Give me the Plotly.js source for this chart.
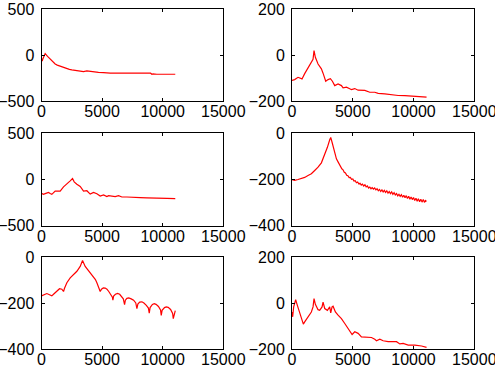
<!DOCTYPE html>
<html>
<head>
<meta charset="utf-8">
<script src="https://cdn.plot.ly/plotly-3.0.1.min.js"></script>
<style>html,body{margin:0;padding:0;background:#fff;}#chart{width:495px;height:366px;}</style>
</head>
<body>
<div id="chart"></div>
<script>
// Series 1 (top-left)
const freq1 = [0, 60, 120, 303, 500, 716, 900, 1128, 1300, 1404, 1550, 1680, 1900, 2092, 2300, 2505, 2918, 3200, 3468, 3743, 4000, 4294, 4700, 5120, 5670, 6500, 7597, 8500, 9000, 9110, 9200, 9523, 10300, 11038];
const vals1 = [-36, -65, -40, 15, -15, -47, -75, -97, -110, -115, -118, -126, -140, -151, -157, -162, -169, -175, -180, -173, -178, -184, -188, -191, -198, -198, -198, -198, -198, -209, -205, -209, -209, -209];

// Series 2 (top-right)
const freq2 = [0, 220, 495, 632, 824, 1044, 1319, 1593, 1731, 1813, 1923, 2143, 2418, 2555, 2775, 2967, 3159, 3324, 3516, 3791, 4066, 4203, 4478, 4753, 4890, 5165, 5440, 5989, 6401, 6813, 7088, 7637, 8187, 8736, 9286, 9973, 10247, 11071];
const vals2 = [-110, -107, -97, -100, -104, -81, -57, -36, -19, 19, -10, -39, -60, -79, -114, -107, -103, -114, -133, -126, -133, -143, -140, -147, -150, -146, -153, -154, -162, -162, -167, -169, -173, -176, -177, -179, -182, -183];

// Series 3 (middle-left)
const freq3 = [0, 165, 303, 578, 716, 853, 1128, 1404, 1541, 1817, 2092, 2367, 2560, 2697, 2918, 3193, 3468, 3743, 4018, 4294, 4569, 4844, 5120, 5395, 5532, 5808, 6083, 6358, 6634, 7046, 7597, 8147, 8697, 9248, 9798, 10349, 11038];
const vals3 = [-153, -163, -156, -142, -153, -163, -128, -128, -128, -82, -53, -18, 7, -28, -53, -78, -128, -124, -160, -142, -156, -181, -170, -188, -178, -181, -188, -178, -192, -192, -199, -199, -202, -206, -202, -206, -209];

// Series 4 (middle-right)
const freq4 = [0, 220, 495, 769, 1044, 1319, 1593, 1868, 2143, 2418, 2692, 2912, 3104, 3187, 3297, 3462, 3654,
  3800, 3900, 4000, 4100, 4200, 4300, 4400, 4500, 4600, 4700, 4800, 4900, 5000, 5100, 5200, 5300, 5400, 5500,
  5600, 5700, 5800, 5900, 6000, 6100, 6200, 6300, 6400, 6500, 6600, 6700, 6800, 6900, 7000, 7100, 7200, 7300,
  7400, 7500, 7600, 7700, 7800, 7900, 8000, 8100, 8200, 8300, 8400, 8500, 8600, 8700, 8800, 8900, 9000, 9100,
  9200, 9300, 9400, 9500, 9600, 9700, 9800, 9900, 10000, 10100, 10200, 10300, 10400, 10500, 10600, 10700,
  10800, 10900, 11000, 11025];
const vals4 = [-202, -205, -201, -198, -192, -184, -176, -162, -148, -129, -95, -62, -29, -19, -40, -76, -112,
  -126, -138, -143, -155, -159, -170, -173, -183, -185, -193, -192, -200, -199, -208, -206, -215, -212, -220,
  -217, -225, -221, -229, -224, -233, -229, -238, -234, -241, -236, -243, -238, -246, -241, -250, -244, -253,
  -246, -255, -248, -257, -250, -260, -253, -262, -255, -265, -258, -268, -262, -272, -265, -274, -267, -278,
  -269, -280, -271, -283, -274, -286, -277, -288, -279, -292, -282, -295, -284, -297, -286, -299,
  -288, -300, -290, -298];

// Series 5 (bottom-left)
const freq5 = [0, 165, 440, 661, 853, 991, 1266, 1486, 1679, 1817, 1899, 2092, 2367, 2642, 2918, 3193, 3386, 3606, 3881, 4100, 4294, 4450, 4569, 4700,
  4844, 4950, 5100, 5257, 5400, 5550, 5700, 5850, 5890, 5950, 6100, 6276, 6450, 6600, 6750, 6854, 6920, 7046, 7200, 7400, 7600, 7780, 7872,
  7950, 8100, 8285, 8450, 8650, 8820, 8890, 8960, 9150, 9303, 9450, 9650, 9820, 9881, 9950, 10150, 10294, 10450, 10650, 10820, 10872, 10950, 11038];
const vals5 = [-169, -166, -159, -164, -169, -162, -147, -138, -140, -150, -136, -112, -91, -77, -62, -41, -15, -41, -60, -72, -84, -98, -112, -128,
  -150, -140, -134, -135, -140, -150, -160, -175, -188, -170, -162, -158, -162, -170, -182, -207, -188, -180, -178, -182, -188, -200, -225,
  -205, -196, -195, -200, -210, -222, -244, -220, -206, -203, -206, -215, -230, -254, -232, -220, -217, -219, -228, -245, -268, -245, -233];

// Series 6 (bottom-right)
const freq6 = [0, 55, 137, 220, 302, 440, 632, 769, 934, 1044, 1319, 1593, 1731, 1813, 1923, 2143, 2280, 2473, 2555, 2692, 2912, 3104, 3187, 3297, 3379, 3571, 3791, 4066, 4341, 4615, 4835, 4945, 5165, 5440, 5714, 6126, 6538, 6813, 6951, 7225, 7500, 7912, 8599, 8874, 9148, 9560, 10110, 10659, 10934, 11071];
const vals6 = [-39, -60, -17, 4, 14, -10, -39, -60, -92, -82, -60, -39, -17, 19, -6, -29, -32, -17, 4, -24, -32, -17, -43, -17, -14, -39, -53, -68, -89, -111, -132, -137, -125, -132, -147, -150, -150, -158, -164, -157, -164, -168, -168, -178, -176, -183, -183, -187, -193, -193];

// Axis ticks and labels per panel
const yRanges = [[-500, 500], [-200, 200], [-500, 500], [-400, 0], [-400, 0], [-200, 200]];
const yTicks = [[-500, 0, 500], [-200, 0, 200], [-500, 0, 500], [-400, -200, 0], [-400, -200, 0], [-200, 0, 200]];
const yTickText = [['\u2212500', '0', '500'], ['\u2212200', '0', '200'], ['\u2212500', '0', '500'],
                   ['\u2212400', '\u2212200', '0'], ['\u2212400', '\u2212200', '0'], ['\u2212200', '0', '200']];
const xTicks = [0, 5000, 10000, 15000];
const xTickText = ['0', '5000', '10000', '15000'];

const series = [[freq1, vals1], [freq2, vals2], [freq3, vals3], [freq4, vals4], [freq5, vals5], [freq6, vals6]];

const colDomains = [[41.5 / 495, 223.3 / 495], [292 / 495, 474.3 / 495]];
const rowDomains = [[1 - 101 / 366, 1 - 9 / 366], [1 - 225.5 / 366, 1 - 133 / 366], [1 - 349 / 366, 1 - 257 / 366]];

const font = {family: '"Liberation Sans", Arial, Helvetica, sans-serif', size: 16, color: '#000'};

const traces = [];
const layout = {
  width: 495, height: 366,
  margin: {l: 0, r: 0, t: 0, b: 0},
  paper_bgcolor: '#fff', plot_bgcolor: '#fff',
  showlegend: false,
  font: font
};

series.forEach((s, i) => {
  const n = i + 1;
  const sx = n === 1 ? '' : String(n);
  traces.push({
    x: s[0], y: s[1], type: 'scatter', mode: 'lines',
    line: {color: '#ff0000', width: 1.2},
    xaxis: 'x' + sx, yaxis: 'y' + sx, hoverinfo: 'skip'
  });
  const row = Math.floor(i / 2), col = i % 2;
  const common = {
    showline: true, linecolor: '#000', linewidth: 1, mirror: 'ticks',
    ticks: 'inside', ticklen: 3, tickwidth: 1, tickcolor: '#000',
    showgrid: false, zeroline: false,
    tickfont: font, automargin: false, fixedrange: true,
    ticklabeloverflow: 'allow'
  };
  layout['xaxis' + sx] = Object.assign({}, common, {
    domain: colDomains[col], range: [0, 15000], tickmode: 'array', tickvals: xTicks, ticktext: xTickText,
    anchor: 'y' + sx, ticklabelstandoff: -4
  });
  layout['yaxis' + sx] = Object.assign({}, common, {
    domain: rowDomains[row], range: yRanges[i], tickmode: 'array', tickvals: yTicks[i], ticktext: yTickText[i],
    anchor: 'x' + sx, ticklabelstandoff: 3
  });
});

Plotly.newPlot('chart', traces, layout, {staticPlot: true, displayModeBar: false});
</script>
</body>
</html>
